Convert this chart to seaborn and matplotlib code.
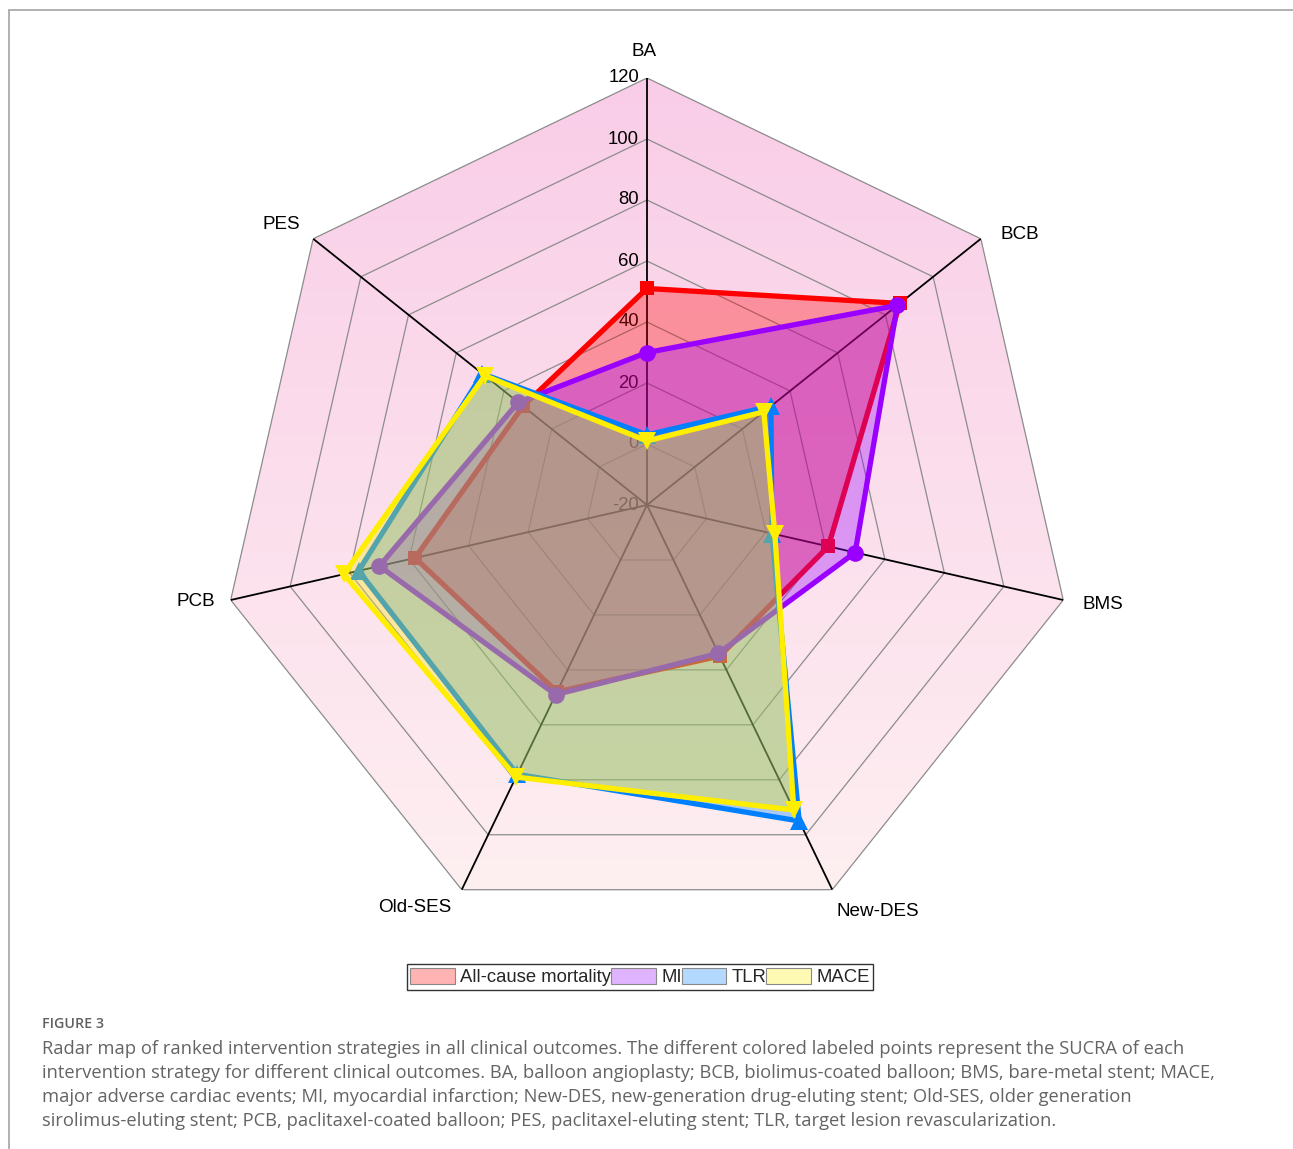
import numpy as np
import pandas as pd
import matplotlib
matplotlib.use("Agg")
import matplotlib.pyplot as plt
import matplotlib.transforms as mtransforms
from matplotlib.patches import Patch
from matplotlib.lines import Line2D
import seaborn as sns

# SUCRA values (%) for each intervention strategy
categories = ["BA", "BCB", "BMS", "New-DES", "Old-SES", "PCB", "PES"]
all_cause_mortality = [51, 86, 41, 35, 48, 58, 32]
mi = [30, 85, 50, 34, 49, 70, 34]
tlr = [3, 32, 22, 95, 78, 77, 49]
mace = [1, 29, 23, 91, 79, 82, 48]
series_names = ["All-cause mortality", "MI", "TLR", "MACE"]
radial_ticks = [-20, 0, 20, 40, 60, 80, 100, 120]

series_values = [all_cause_mortality, mi, tlr, mace]
series_colors = ["#FF0000", "#9900FF", "#0080FF", "#FFEE00"]
series_markers = ["s", "o", "^", "v"]
series_msize = [10, 12, 12.5, 12.5]

sns.set_theme(style="white")
plt.rcParams["font.family"] = ["Liberation Sans", "DejaVu Sans"]

W, H = 1293, 1149
fig = plt.figure(figsize=(W / 100, H / 100), dpi=100)
fig.patch.set_facecolor("white")

# polar axes placement (pixels)
cx, cy, R = 647, 505, 427
rect = [(cx - R) / W, (H - (cy + R)) / H, 2 * R / W, 2 * R / H]

# background gradient axes, clipped to outer heptagon later
bg = fig.add_axes(rect, zorder=0)
bg.set_axis_off()
top_c = np.array([249, 205, 232]) / 255
bot_c = np.array([254, 241, 241]) / 255
t = np.linspace(0, 1, 256)[:, None, None]
grad = top_c[None, None, :] * (1 - t) + bot_c[None, None, :] * t
im = bg.imshow(grad, extent=[0, 1, 0, 1], aspect="auto", origin="upper")
bg.set_xlim(0, 1)
bg.set_ylim(0, 1)

ax = fig.add_axes(rect, projection="polar", zorder=1)
ax.patch.set_visible(False)
ax.set_theta_offset(np.pi / 2)
ax.set_theta_direction(-1)
ax.grid(False)
ax.spines["polar"].set_visible(False)

n = len(categories)
theta = np.arange(n) * 2 * np.pi / n
theta_c = np.append(theta, theta[0])

outer = ax.fill(theta_c, [radial_ticks[-1]] * (n + 1), facecolor="none",
                edgecolor="none")[0]
im.set_clip_path(outer)

# heptagonal grid rings
for v in radial_ticks[1:]:
    ax.plot(theta_c, [v] * (n + 1), color="#8c8c8c", lw=0.9, zorder=2)
# spokes
for th in theta:
    ax.plot([th, th], [radial_ticks[0], radial_ticks[-1]], color="black",
            lw=1.3, zorder=3)

# radial tick labels along the BA axis
tick_tr = mtransforms.offset_copy(ax.transData, fig=fig, x=-8, y=0,
                                  units="dots")
for v in radial_ticks:
    ax.text(0, v, str(v), transform=tick_tr, ha="right", va="center",
            fontsize=13.3, color="black", zorder=4)

# category labels
label_offsets = [(-3, 26), (39, 4), (40, -4), (46, -22), (-47, -18),
                 (-35, -1), (-32, 14)]
for th, lab, (dx, dy) in zip(theta, categories, label_offsets):
    tr = mtransforms.offset_copy(ax.transData, fig=fig, x=dx, y=dy,
                                 units="dots")
    ax.text(th, radial_ticks[-1], lab, transform=tr, ha="center",
            va="center", fontsize=13.6, color="black")

# data series: fill, outline and markers
for i, (name, vals, col, mk, ms) in enumerate(
        zip(series_names, series_values, series_colors, series_markers,
            series_msize)):
    vc = np.append(vals, vals[0])
    z = 10 + 3 * i
    ax.fill(theta_c, vc, color=col, alpha=0.33, lw=0, zorder=z)
    df = pd.DataFrame({"theta": theta_c, "value": vc})
    sns.lineplot(data=df, x="theta", y="value", sort=False, estimator=None,
                 ax=ax, color=col, lw=3.8, zorder=z + 1)
    ax.plot(theta, vals, ls="none", marker=mk, markersize=ms, color=col,
            markeredgewidth=0, zorder=z + 2)

ax.set_xlabel("")
ax.set_ylabel("")
ax.set_xticks([])
ax.set_yticks([])
ax.set_ylim(radial_ticks[0], radial_ticks[-1])

# legend
handles = [Patch(facecolor=c, edgecolor="#888888", lw=0.8)
           for c in series_colors]
leg = fig.legend(handles, series_names, loc="center",
                 bbox_to_anchor=(640 / W, 1 - 977 / H), ncol=4,
                 frameon=True, fancybox=False, fontsize=13.3,
                 handlelength=2.4, handleheight=1.0, handletextpad=0.3,
                 columnspacing=0.0, borderpad=0.2, borderaxespad=0)
leg.get_frame().set_edgecolor("black")
leg.get_frame().set_linewidth(1.0)
for h, c in zip(leg.legend_handles, series_colors):
    fc = np.array(matplotlib.colors.to_rgb(c))
    h.set_facecolor(fc * 0.3 + 0.7)

# caption
cap_font = ["Open Sans", "DejaVu Sans"]
fig.text(42 / W, 1 - 1024 / H, "FIGURE 3", fontsize=10.3, color="#606060",
         family=cap_font, weight="semibold", ha="left", va="center")
caption = [
    "Radar map of ranked intervention strategies in all clinical outcomes. "
    "The different colored labeled points represent the SUCRA of each",
    "intervention strategy for different clinical outcomes. BA, balloon "
    "angioplasty; BCB, biolimus-coated balloon; BMS, bare-metal stent; MACE,",
    "major adverse cardiac events; MI, myocardial infarction; New-DES, "
    "new-generation drug-eluting stent; Old-SES, older generation",
    "sirolimus-eluting stent; PCB, paclitaxel-coated balloon; PES, "
    "paclitaxel-eluting stent; TLR, target lesion revascularization.",
]
for k, line in enumerate(caption):
    fig.text(42 / W, 1 - (1049 + 24 * k) / H, line, fontsize=13.25,
             color="#646464", family=cap_font, ha="left", va="center")

# page frame lines
fig.add_artist(Line2D([9 / W, 1], [1 - 10 / H, 1 - 10 / H],
                      transform=fig.transFigure, color="#aaaaaa", lw=1.3))
fig.add_artist(Line2D([9 / W, 9 / W], [0, 1 - 10 / H],
                      transform=fig.transFigure, color="#aaaaaa", lw=1.3))

fig.savefig("out.png", dpi=100, facecolor="white")
